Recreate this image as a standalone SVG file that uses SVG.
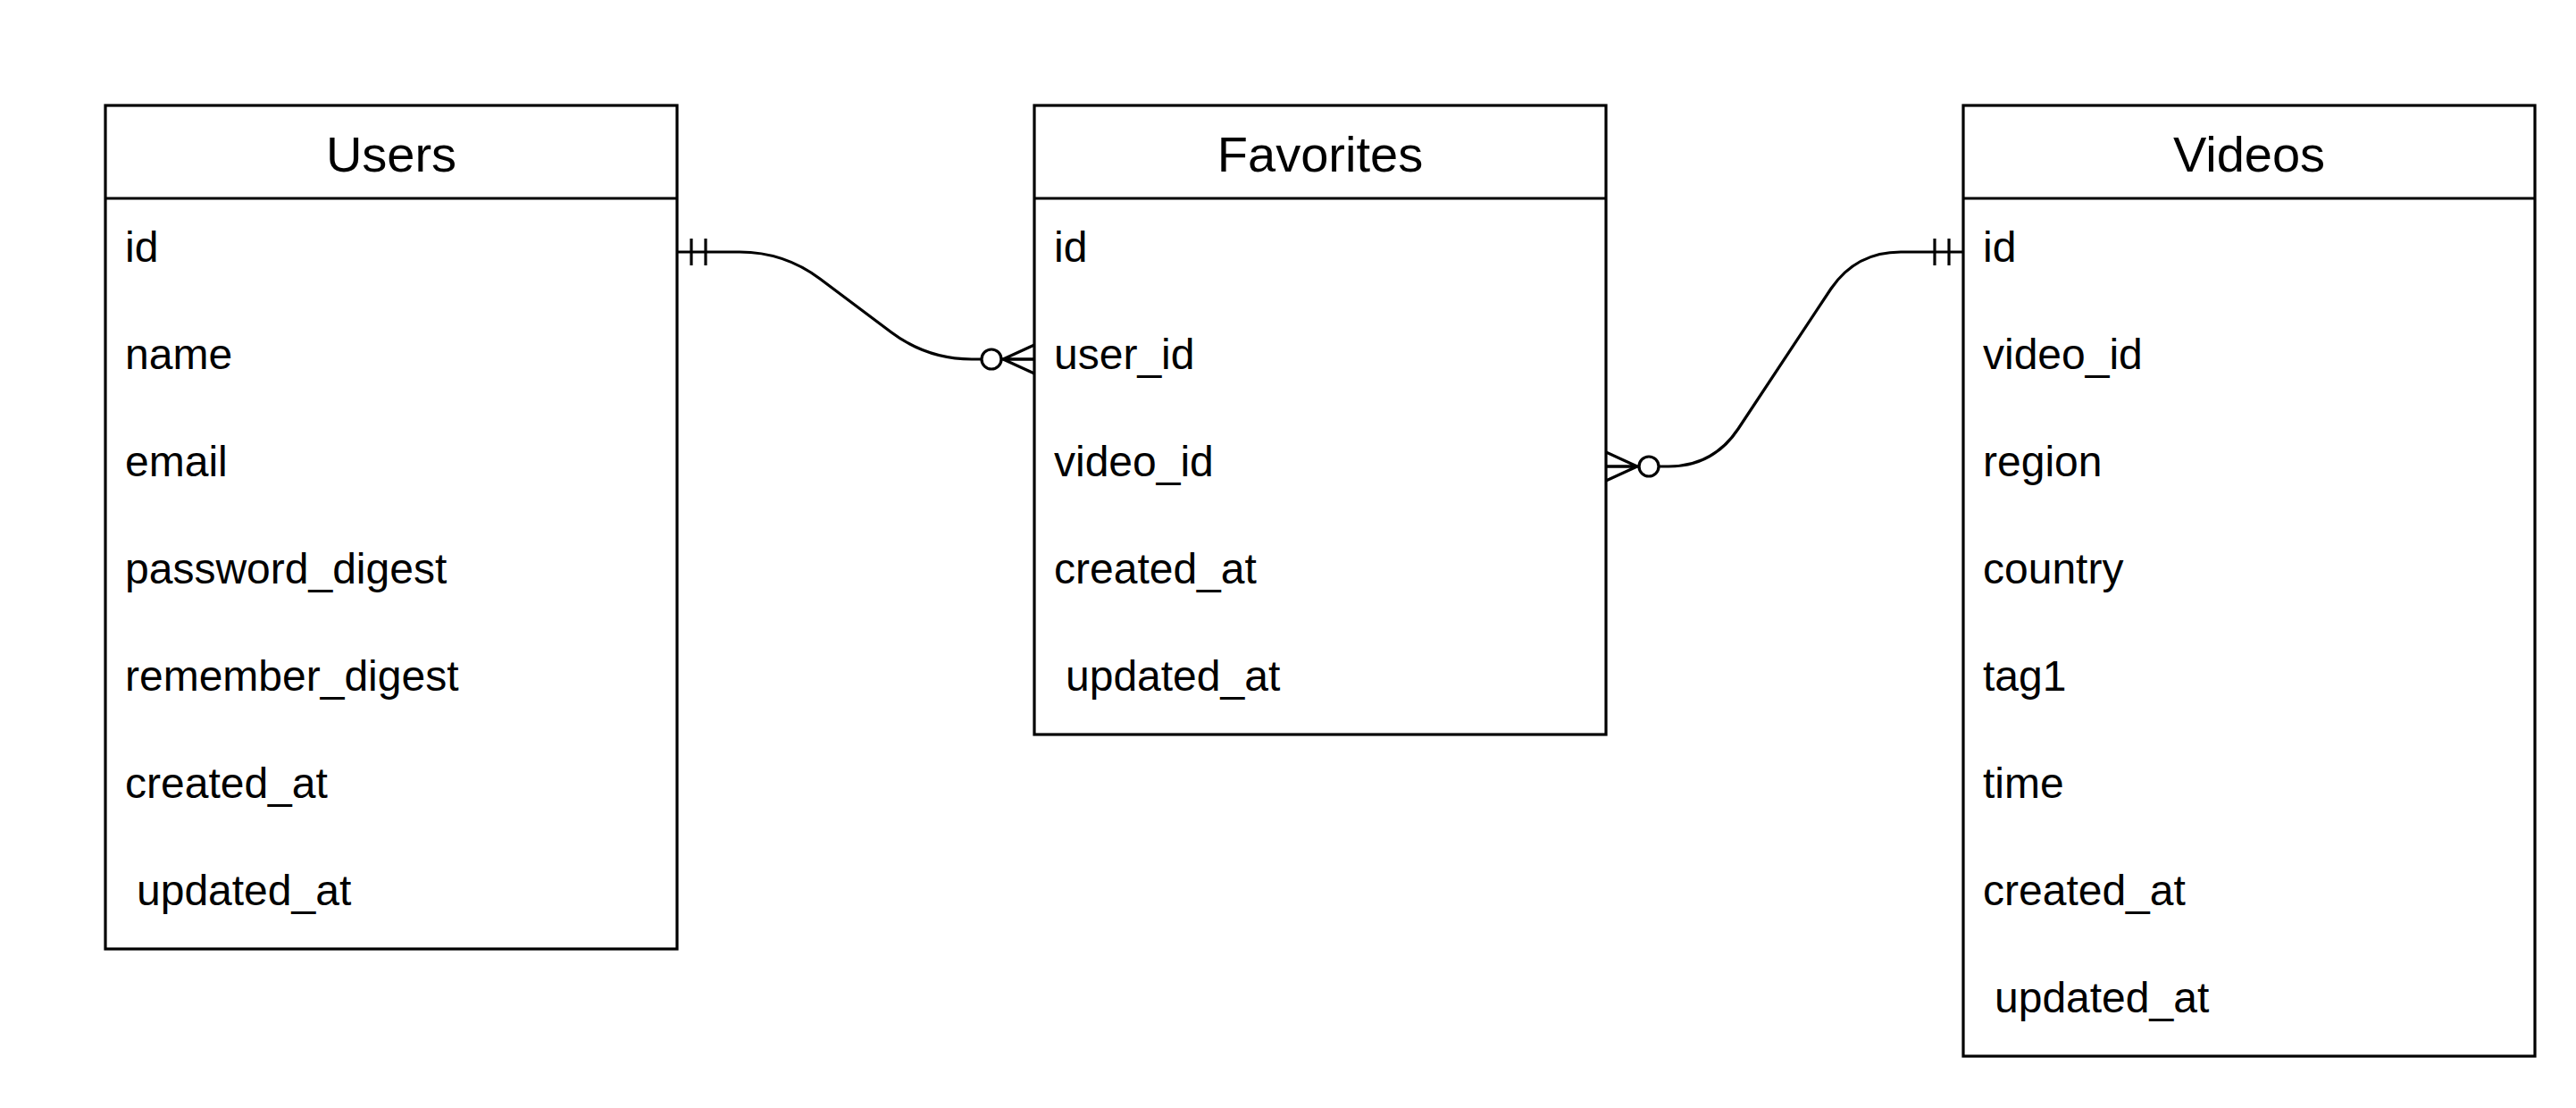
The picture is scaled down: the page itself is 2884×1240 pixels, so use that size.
<svg xmlns="http://www.w3.org/2000/svg" width="2884" height="1240" viewBox="0 0 2884 1240">
<style>
.box{fill:#ffffff;stroke:#000000;stroke-width:3.2}
.sep{stroke:#000000;stroke-width:3.2}
.title{font-family:"Liberation Sans",Arial,Helvetica,sans-serif;font-size:56px;fill:#000000;text-anchor:middle}
.row{font-family:"Liberation Sans",Arial,Helvetica,sans-serif;font-size:48px;fill:#000000}
.conn{fill:none;stroke:#000000;stroke-width:3.2}
.circ{fill:#ffffff;stroke:#000000;stroke-width:3.2}
</style>
<rect width="2884" height="1240" fill="#ffffff"/>
<g id="users">
<rect class="box" x="118" y="118" width="640" height="944"/>
<line class="sep" x1="118" y1="222" x2="758" y2="222"/>
<text class="title" x="438" y="192">Users</text>
<text class="row" x="140" y="293">id</text>
<text class="row" x="140" y="413">name</text>
<text class="row" x="140" y="533">email</text>
<text class="row" x="140" y="653">password_digest</text>
<text class="row" x="140" y="773">remember_digest</text>
<text class="row" x="140" y="893">created_at</text>
<text class="row" x="153" y="1013">updated_at</text>
</g>
<g id="favorites">
<rect class="box" x="1158" y="118" width="640" height="704"/>
<line class="sep" x1="1158" y1="222" x2="1798" y2="222"/>
<text class="title" x="1478" y="192">Favorites</text>
<text class="row" x="1180" y="293">id</text>
<text class="row" x="1180" y="413">user_id</text>
<text class="row" x="1180" y="533">video_id</text>
<text class="row" x="1180" y="653">created_at</text>
<text class="row" x="1193" y="773">updated_at</text>
</g>
<g id="videos">
<rect class="box" x="2198" y="118" width="640" height="1064"/>
<line class="sep" x1="2198" y1="222" x2="2838" y2="222"/>
<text class="title" x="2518" y="192">Videos</text>
<text class="row" x="2220" y="293">id</text>
<text class="row" x="2220" y="413">video_id</text>
<text class="row" x="2220" y="533">region</text>
<text class="row" x="2220" y="653">country</text>
<text class="row" x="2220" y="773">tag1</text>
<text class="row" x="2220" y="893">time</text>
<text class="row" x="2220" y="1013">created_at</text>
<text class="row" x="2233" y="1133">updated_at</text>
</g>
<g id="connectors">
<g id="users-favorites">
<path class="conn" d="M 758 282 L 828 282 Q 878 282 918 312 L 998 372 Q 1038 402 1088 402 L 1158 402"/>
<line class="conn" x1="774" y1="267" x2="774" y2="297"/>
<line class="conn" x1="790" y1="267" x2="790" y2="297"/>
<circle class="circ" cx="1110" cy="402" r="11"/>
<path class="conn" d="M 1158 386 L 1123 402 L 1158 418 M 1123 402 L 1158 402"/>
</g>
<g id="favorites-videos">
<path class="conn" d="M 1798 522 L 1868 522 Q 1918 522 1946 480 L 2050 323 Q 2078 282 2128 282 L 2198 282"/>
<line class="conn" x1="2166" y1="267" x2="2166" y2="297"/>
<line class="conn" x1="2182" y1="267" x2="2182" y2="297"/>
<circle class="circ" cx="1846" cy="522" r="11"/>
<path class="conn" d="M 1798 506 L 1833 522 L 1798 538 M 1833 522 L 1798 522"/>
</g>
</g>
</svg>
